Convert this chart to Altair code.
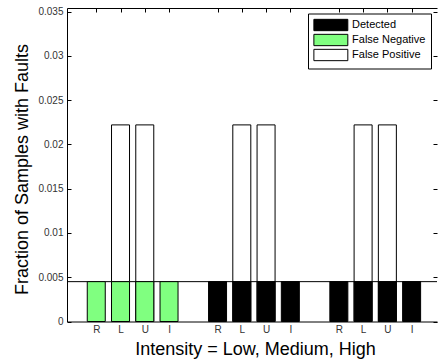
import altair as alt
import pandas as pd

# ---- data ----
groups = ["Low", "Medium", "High"]
methods = ["R", "L", "U", "I"]
types = ["Detected", "False Negative", "False Positive"]
type_colors = ["#000000", "#80ff80", "#ffffff"]

detected = [
    [0.0, 0.0, 0.0, 0.0],
    [0.0045, 0.0045, 0.0045, 0.0045],
    [0.0045, 0.0045, 0.0045, 0.0045],
]
false_negative = [
    [0.0045, 0.0045, 0.0045, 0.0045],
    [0.0, 0.0, 0.0, 0.0],
    [0.0, 0.0, 0.0, 0.0],
]
false_positive = [
    [0.0, 0.0222, 0.0222, 0.0],
    [0.0, 0.0222, 0.0222, 0.0],
    [0.0, 0.0222, 0.0222, 0.0],
]
reference_level = [0.0045]
y_ticks = [0, 0.005, 0.01, 0.015, 0.02, 0.025, 0.03, 0.035]
x_title = "Intensity = Low, Medium, High"
y_title = "Fraction of Samples with Faults"

# ---- build table ----
rows = []
series = {"Detected": detected, "False Negative": false_negative, "False Positive": false_positive}
for gi, g in enumerate(groups):
    for mi, m in enumerate(methods):
        pos = gi * (len(methods) + 1) + mi + 1
        for t in types:
            rows.append({"group": g, "method": m, "pos": pos, "type": t, "value": series[t][gi][mi]})
df = pd.DataFrame(rows)
positions = sorted(df["pos"].unique().tolist())
df_fp = df[(df["type"] == "False Positive") & (df["value"] > 0)]
df_low = df[(df["type"] != "False Positive") & (df["value"] > 0)]
df_ref = pd.DataFrame({"level": reference_level})

W, H = 370, 313.5
FONT = "Liberation Sans"
x_scale = alt.Scale(domain=[0, 14.84], nice=False, zero=False)
y_scale = alt.Scale(domain=[0, 0.0354], nice=False)
color_scale = alt.Scale(domain=types, range=type_colors)
label_arr = "[" + ",".join("'" + m + "'" for m in methods) + "]"

legend = alt.Legend(
    orient="none", legendX=241, legendY=5.5, title=None,
    strokeColor="black", fillColor="white", padding=5, cornerRadius=0,
    symbolType="M-3,-1H3V1H-3Z", symbolSize=128,
    symbolStrokeColor="black", symbolStrokeWidth=1, symbolOpacity=1,
    symbolOffset=11.35, labelOffset=14.7, labelFontSize=11, labelFont=FONT,
    labelColor="black", rowPadding=-2.8,
)

main_x_axis = alt.Axis(
    values=positions, labelExpr=f"{label_arr}[(datum.value % {len(methods)+1}) - 1]",
    tickSize=0, domain=True, domainColor="black", domainWidth=1, grid=False,
    labelPadding=3, labelFontSize=10,
    labelFont=FONT, labelColor="#333333", labelBaseline="top",
    title=x_title, titleFont=FONT, titleFontSize=18, titleFontWeight="normal",
    titleColor="black", titleX=188, titleY=33, titleBaseline="alphabetic", titleAlign="center",
)
main_y_axis = alt.Axis(
    values=y_ticks, format="~g", tickSize=0, domain=True, domainColor="black",
    domainWidth=1, grid=False,
    labelPadding=4, labelFontSize=10, labelFont=FONT, labelColor="#333333",
    title=y_title, titleFont=FONT, titleFontSize=18, titleFontWeight="normal",
    titleColor="black", titleX=-40, titleY=161, titleBaseline="alphabetic", titleAlign="center",
    titleAngle=270,
)

fp_bars = alt.Chart(df_fp).mark_bar(width=18, stroke="black", strokeWidth=1).encode(
    x=alt.X("pos:Q", scale=x_scale, axis=main_x_axis),
    y=alt.Y("value:Q", scale=y_scale, axis=main_y_axis),
    color=alt.Color("type:N", scale=color_scale, legend=legend),
)

ref_rule = alt.Chart(df_ref).mark_rule(color="black", strokeWidth=1).encode(
    y=alt.Y("level:Q", scale=y_scale, axis=None),
)

low_bars = alt.Chart(df_low).mark_bar(width=18, stroke="black", strokeWidth=1).encode(
    x=alt.X("pos:Q", scale=x_scale, axis=None),
    y=alt.Y("value:Q", scale=y_scale, axis=None),
    color=alt.Color("type:N", scale=color_scale, legend=legend),
)

# inward ticks on the top and left edges (top axis line drawn here too)
ticks_a = alt.Chart(df).mark_point(opacity=0).encode(
    x=alt.X("pos:Q", scale=x_scale, axis=alt.Axis(
        orient="bottom", offset=-H, values=positions, labels=False, domain=True,
        domainColor="black", domainWidth=1,
        grid=False, tickSize=4, tickColor="black", title=None)),
    y=alt.Y("value:Q", scale=y_scale, axis=alt.Axis(
        orient="right", offset=-W, values=y_ticks, labels=False, domain=False,
        grid=False, tickSize=4, tickColor="black", title=None)),
)
# inward ticks on the right edge
ticks_b = alt.Chart(df).mark_point(opacity=0).encode(
    y=alt.Y("value:Q", scale=y_scale, axis=alt.Axis(
        orient="left", offset=-W, values=y_ticks, labels=False, domain=False,
        grid=False, tickSize=4, tickColor="black", title=None)),
)

chart = alt.layer(fp_bars, ref_rule, low_bars, ticks_a, ticks_b).resolve_axis(
    x="independent", y="independent"
).properties(
    width=W, height=H,
    autosize=alt.AutoSizeParams(type="none"),
    padding={"left": 67, "top": 8, "right": 1, "bottom": 38.5},
    background="white",
).configure_view(stroke=None)

chart.save("out.html", embed_options={"renderer": "svg", "actions": False})
